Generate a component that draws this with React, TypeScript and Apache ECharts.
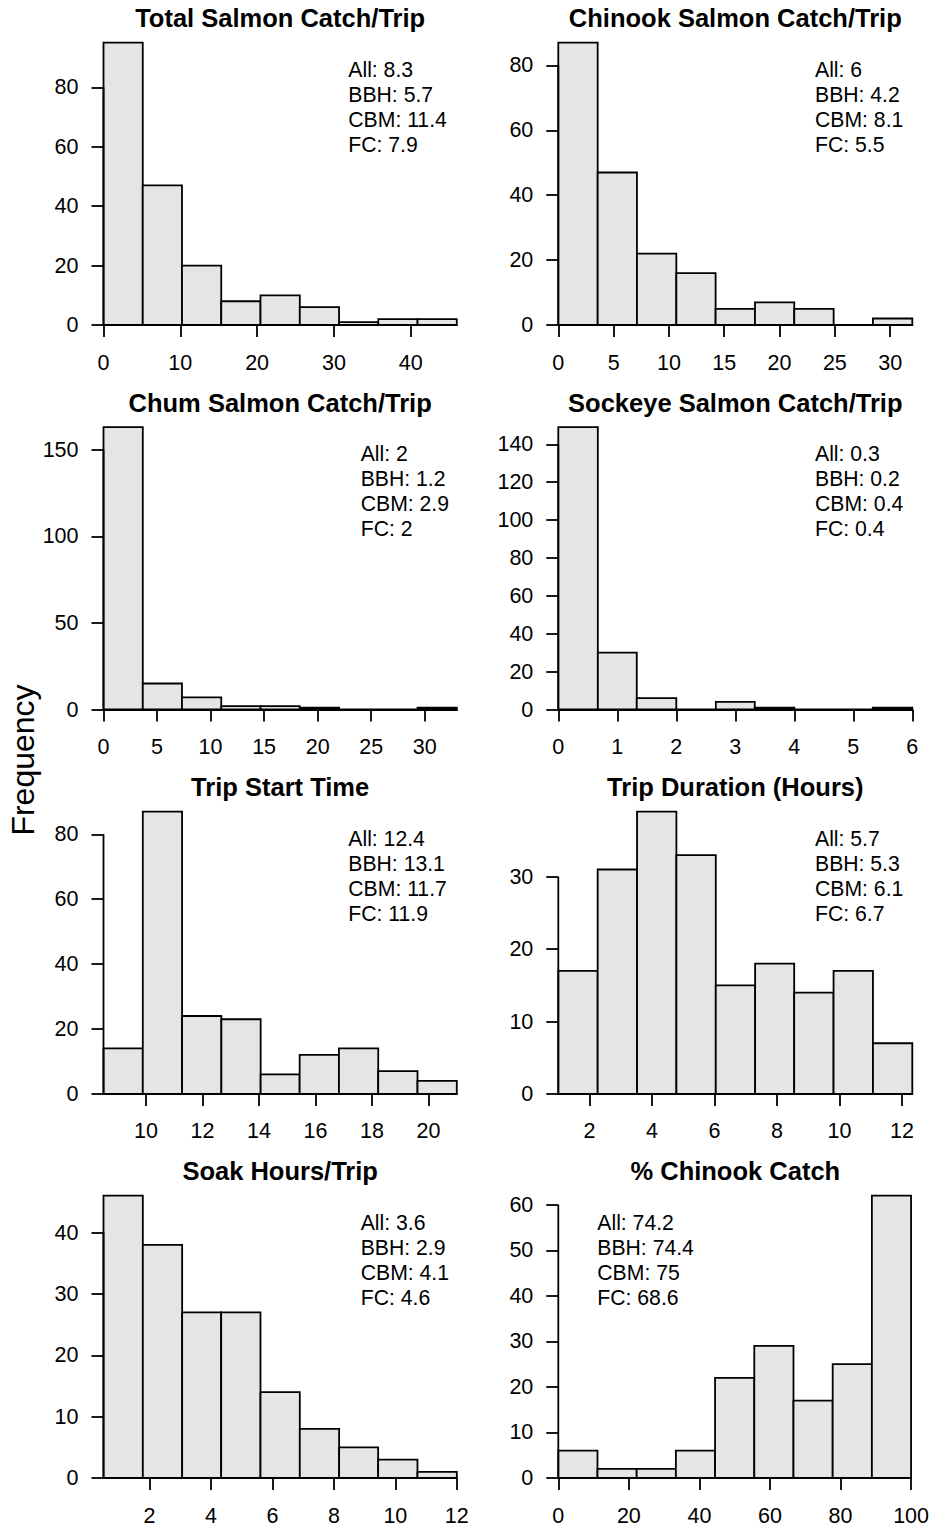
import React, { useEffect, useRef } from "react";
import * as echarts from "echarts";

// ---------- data ----------
const titles = [
  "Total Salmon Catch/Trip",
  "Chinook Salmon Catch/Trip",
  "Chum Salmon Catch/Trip",
  "Sockeye Salmon Catch/Trip",
  "Trip Start Time",
  "Trip Duration (Hours)",
  "Soak Hours/Trip",
  "% Chinook Catch",
];

const totalBreaks = [0, 5.11, 10.22, 15.33, 20.44, 25.56, 30.67, 35.78, 40.89, 46];
const totalCounts = [95, 47, 20, 8, 10, 6, 1, 2, 2];
const totalXTicks = [0, 10, 20, 30, 40];
const totalYTicks = [0, 20, 40, 60, 80];
const totalStats = ["All: 8.3", "BBH: 5.7", "CBM: 11.4", "FC: 7.9"];

const chinookBreaks = [0, 3.56, 7.11, 10.67, 14.22, 17.78, 21.33, 24.89, 28.44, 32];
const chinookCounts = [87, 47, 22, 16, 5, 7, 5, 0, 2];
const chinookXTicks = [0, 5, 10, 15, 20, 25, 30];
const chinookYTicks = [0, 20, 40, 60, 80];
const chinookStats = ["All: 6", "BBH: 4.2", "CBM: 8.1", "FC: 5.5"];

const chumBreaks = [0, 3.67, 7.33, 11, 14.67, 18.33, 22, 25.67, 29.33, 33];
const chumCounts = [163, 15, 7, 2, 2, 1, 0, 0, 1];
const chumXTicks = [0, 5, 10, 15, 20, 25, 30];
const chumYTicks = [0, 50, 100, 150];
const chumStats = ["All: 2", "BBH: 1.2", "CBM: 2.9", "FC: 2"];

const sockeyeBreaks = [0, 0.67, 1.33, 2, 2.67, 3.33, 4, 4.67, 5.33, 6];
const sockeyeCounts = [149, 30, 6, 0, 4, 1, 0, 0, 1];
const sockeyeXTicks = [0, 1, 2, 3, 4, 5, 6];
const sockeyeYTicks = [0, 20, 40, 60, 80, 100, 120, 140];
const sockeyeStats = ["All: 0.3", "BBH: 0.2", "CBM: 0.4", "FC: 0.4"];

const startBreaks = [8.5, 9.89, 11.28, 12.67, 14.06, 15.44, 16.83, 18.22, 19.61, 21];
const startCounts = [14, 87, 24, 23, 6, 12, 14, 7, 4];
const startXTicks = [10, 12, 14, 16, 18, 20];
const startYTicks = [0, 20, 40, 60, 80];
const startStats = ["All: 12.4", "BBH: 13.1", "CBM: 11.7", "FC: 11.9"];

const durationBreaks = [1, 2.26, 3.52, 4.78, 6.04, 7.3, 8.55, 9.81, 11.07, 12.33];
const durationCounts = [17, 31, 39, 33, 15, 18, 14, 17, 7];
const durationXTicks = [2, 4, 6, 8, 10, 12];
const durationYTicks = [0, 10, 20, 30];
const durationStats = ["All: 5.7", "BBH: 5.3", "CBM: 6.1", "FC: 6.7"];

const soakBreaks = [0.5, 1.78, 3.06, 4.33, 5.61, 6.89, 8.17, 9.44, 10.72, 12];
const soakCounts = [46, 38, 27, 27, 14, 8, 5, 3, 1];
const soakXTicks = [2, 4, 6, 8, 10, 12];
const soakYTicks = [0, 10, 20, 30, 40];
const soakStats = ["All: 3.6", "BBH: 2.9", "CBM: 4.1", "FC: 4.6"];

const pctBreaks = [0, 11.11, 22.22, 33.33, 44.44, 55.56, 66.67, 77.78, 88.89, 100];
const pctCounts = [6, 2, 2, 6, 22, 29, 17, 25, 62];
const pctXTicks = [0, 20, 40, 60, 80, 100];
const pctYTicks = [0, 10, 20, 30, 40, 50, 60];
const pctStats = ["All: 74.2", "BBH: 74.4", "CBM: 75", "FC: 68.6"];

const yAxisTitle = "Frequency";

// ---------- layout ----------
const FONT = "'Liberation Sans', Arial, Helvetica, sans-serif";
const COL_LEFT = [103.5, 558.3];
const COL_WIDTH = [353.3, 354];
const ROW_TOP = [42.7, 427.2, 811.6, 1195.7];
const PLOT_H = 282.3;
const STATS_LEFT = [348.3, 815, 360.7, 815, 348.3, 815, 360.7, 597.3];
const LW = 1.8;
const TICK_FS = 21.5;
const STAT_FS = 21.2;
const TITLE_FS = 25.5;
const YTITLE_FS = 32;

const panels = [
  { title: titles[0], breaks: totalBreaks, counts: totalCounts, xTicks: totalXTicks, yTicks: totalYTicks, stats: totalStats },
  { title: titles[1], breaks: chinookBreaks, counts: chinookCounts, xTicks: chinookXTicks, yTicks: chinookYTicks, stats: chinookStats },
  { title: titles[2], breaks: chumBreaks, counts: chumCounts, xTicks: chumXTicks, yTicks: chumYTicks, stats: chumStats },
  { title: titles[3], breaks: sockeyeBreaks, counts: sockeyeCounts, xTicks: sockeyeXTicks, yTicks: sockeyeYTicks, stats: sockeyeStats },
  { title: titles[4], breaks: startBreaks, counts: startCounts, xTicks: startXTicks, yTicks: startYTicks, stats: startStats },
  { title: titles[5], breaks: durationBreaks, counts: durationCounts, xTicks: durationXTicks, yTicks: durationYTicks, stats: durationStats },
  { title: titles[6], breaks: soakBreaks, counts: soakCounts, xTicks: soakXTicks, yTicks: soakYTicks, stats: soakStats },
  { title: titles[7], breaks: pctBreaks, counts: pctCounts, xTicks: pctXTicks, yTicks: pctYTicks, stats: pctStats },
];

function buildOption() {
  const grid: any[] = [];
  const xAxis: any[] = [];
  const yAxis: any[] = [];
  const series: any[] = [];
  const graphic: any[] = [];

  panels.forEach((p, i) => {
    const col = i % 2;
    const row = Math.floor(i / 2);
    const left = COL_LEFT[col];
    const width = COL_WIDTH[col];
    const top = ROW_TOP[row];
    grid.push({ left, top, width, height: PLOT_H, containLabel: false });

    const lineStyle = { color: "#000", width: LW };
    xAxis.push({
      gridIndex: i,
      type: "value",
      min: p.breaks[0],
      max: p.breaks[p.breaks.length - 1],
      axisLine: { show: true, lineStyle },
      axisTick: { show: true, length: 12, inside: false, customValues: p.xTicks, lineStyle },
      axisLabel: {
        show: true,
        customValues: p.xTicks,
        margin: 27,
        fontSize: TICK_FS,
        lineHeight: 21,
        color: "#000",
        fontFamily: FONT,
        showMinLabel: true,
        showMaxLabel: true,
      },
      splitLine: { show: false },
    });
    yAxis.push({
      gridIndex: i,
      type: "value",
      min: 0,
      max: Math.max(...p.counts),
      axisLine: { show: false },
      axisTick: { show: true, length: 12, inside: false, customValues: p.yTicks, lineStyle },
      axisLabel: {
        show: true,
        customValues: p.yTicks,
        margin: 25,
        fontSize: TICK_FS,
        color: "#000",
        fontFamily: FONT,
        showMinLabel: true,
        showMaxLabel: true,
      },
      splitLine: { show: false },
    });

    // histogram bars
    series.push({
      type: "custom",
      xAxisIndex: i,
      yAxisIndex: i,
      clip: false,
      silent: true,
      encode: { x: [0, 1], y: 2 },
      data: p.counts.map((c, k) => [p.breaks[k], p.breaks[k + 1], c]),
      renderItem: (params: any, api: any) => {
        const p0 = api.coord([api.value(0), 0]);
        const p1 = api.coord([api.value(1), api.value(2)]);
        return {
          type: "rect",
          shape: { x: p0[0], y: p1[1], width: p1[0] - p0[0], height: p0[1] - p1[1] },
          style: { fill: "#e5e5e5", stroke: "#000", lineWidth: LW },
        };
      },
    });

    // y axis line (spans from 0 to the last tick, R style)
    series.push({
      type: "custom",
      xAxisIndex: i,
      yAxisIndex: i,
      clip: false,
      silent: true,
      z: 3,
      encode: { x: 0, y: 1 },
      data: [[p.breaks[0], p.yTicks[p.yTicks.length - 1]]],
      renderItem: (params: any, api: any) => {
        const a = api.coord([api.value(0), 0]);
        const b = api.coord([api.value(0), api.value(1)]);
        return {
          type: "line",
          shape: { x1: a[0], y1: a[1], x2: b[0], y2: b[1] },
          style: { stroke: "#000", lineWidth: LW },
        };
      },
    });

    // title
    graphic.push({
      type: "text",
      x: left + width / 2,
      y: top - 24.4,
      style: {
        text: p.title,
        fill: "#000",
        font: `bold ${TITLE_FS}px ${FONT}`,
        align: "center",
        verticalAlign: "middle",
      },
    });

    // stats
    p.stats.forEach((s, k) => {
      graphic.push({
        type: "text",
        x: STATS_LEFT[i],
        y: top + 26.6 + 25 * k,
        style: {
          text: s,
          fill: "#000",
          font: `${STAT_FS}px ${FONT}`,
          align: "left",
          verticalAlign: "middle",
        },
      });
    });
  });

  graphic.push({
    type: "text",
    x: 23,
    y: 760,
    rotation: Math.PI / 2,
    style: {
      text: yAxisTitle,
      fill: "#000",
      font: `${YTITLE_FS}px ${FONT}`,
      align: "center",
      verticalAlign: "middle",
    },
  });

  return {
    animation: false,
    backgroundColor: "#fff",
    grid,
    xAxis,
    yAxis,
    series,
    graphic,
  };
}

export default function App() {
  const ref = useRef<HTMLDivElement>(null);
  useEffect(() => {
    if (!ref.current) return;
    const chart = echarts.init(ref.current, undefined, { renderer: "svg" });
    chart.setOption(buildOption() as any);
    return () => chart.dispose();
  }, []);
  return (
    <div
      ref={ref}
      style={{ position: "absolute", left: 0, top: 0, width: 932, height: 1528, background: "#fff" }}
    />
  );
}
